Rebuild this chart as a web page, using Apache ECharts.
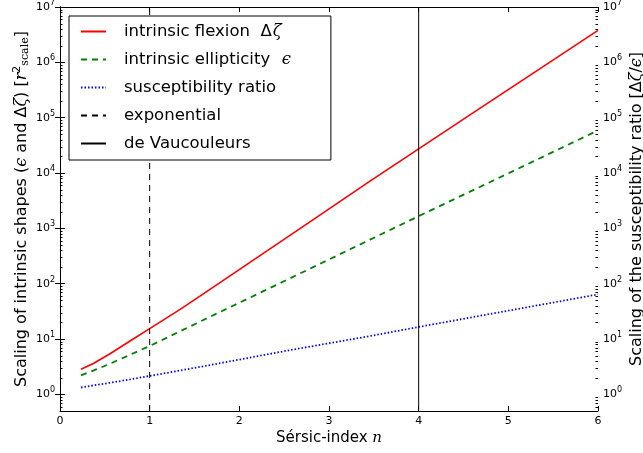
<!DOCTYPE html>
<html>
<head>
<meta charset="utf-8">
<script src="https://cdn.jsdelivr.net/npm/echarts@6/dist/echarts.min.js"></script>
<style>
  html, body { margin: 0; padding: 0; background: #fff; overflow: hidden; }
  #chart { width: 643px; height: 453px; }
</style>
</head>
<body>
<div id="chart"></div>
<script>
// Sérsic index values at which the scalings are sampled
const sersicN = [0.234, 0.372, 0.558, 0.781, 1.0, 1.34, 1.561, 2.453, 2.565, 3.457, 4.0, 4.572, 5.464, 6.0];
// intrinsic flexion Δζ  [r_scale^2]
const flexion = [2.84, 3.61, 5.42, 9.20, 15.4, 34.4, 59.7, 564, 746, 7110, 27350, 112000, 1010000, 3780000];
// intrinsic ellipticity ε
const ellipticity = [2.21, 2.68, 3.58, 5.19, 7.48, 13.8, 20.6, 102, 125, 624, 1660, 4600, 22600, 58900];
// susceptibility ratio Δζ/ε
const ratio = [1.33, 1.45, 1.62, 1.86, 2.15, 2.70, 3.13, 5.82, 6.30, 11.3, 16.5, 24.3, 44.6, 64.1];

// reference profiles
const exponentialN = 1;
const deVaucouleursN = 4;

// axis ranges
const xRange = [0, 6];
const yRange = [0.5, 1e7];

const FONT = 'DejaVu Sans';
const MATH = 'DejaVu Serif';

function pairs(xs, ys) { return xs.map((x, i) => [x, ys[i]]); }

// minor log ticks at 2..9 × 10^k inside the y range
const minorTicks = [];
for (let k = -1; k <= 6; k++) {
  for (let m = 2; m <= 9; m++) {
    const v = m * Math.pow(10, k);
    if (v >= yRange[0] && v <= yRange[1]) minorTicks.push([xRange[0], v]);
  }
}

function powLabel(v) {
  const k = Math.log10(v);
  if (Math.abs(k - Math.round(k)) > 1e-6) return '';
  return '10{sup|' + Math.round(k) + '}';
}

const tickLabelRich = {
  sup: { fontSize: 8, fontFamily: FONT, color: '#000', padding: [0, 0, 8, 0] }
};

const chart = echarts.init(document.getElementById('chart'), null, { renderer: 'canvas' });

const yAxisCommon = {
  type: 'log',
  logBase: 10,
  min: yRange[0],
  max: yRange[1],
  axisLine: { show: true, lineStyle: { color: '#000', width: 1 } },
  axisTick: { show: true, inside: true, length: 5, lineStyle: { color: '#000' } },
  splitLine: { show: false },
  axisLabel: {
    showMinLabel: false,
    formatter: powLabel,
    fontFamily: FONT,
    fontSize: 11,
    color: '#000',
    margin: 5,
    rich: tickLabelRich
  },
  nameLocation: 'middle',
  nameRotate: 90,
  nameMoveOverlap: false,
  nameTextStyle: { fontFamily: FONT, fontSize: 16, color: '#000' }
};

const mathRich = { fontFamily: MATH, fontStyle: 'italic', fontSize: 16.5, color: '#000', padding: [0, 0, 0, 1] };

const option = {
  animation: false,
  backgroundColor: '#fff',
  grid: { left: 60, right: 45, top: 7, bottom: 42, containLabel: false, outerBoundsMode: 'none' },
  legend: {
    orient: 'vertical',
    left: 69,
    top: 16,
    padding: [7, 40, 8, 11],
    itemWidth: 25,
    itemHeight: 14,
    itemGap: 11,
    borderColor: '#000',
    borderWidth: 1,
    backgroundColor: '#fff',
    itemStyle: { opacity: 0 },
    data: ['flexion', 'ellipticity', 'ratio', 'exponential', 'deVaucouleurs'],
    formatter: function (name) {
      return {
        flexion: 'intrinsic flexion  Δ{i|ζ}',
        ellipticity: 'intrinsic ellipticity  {i|ϵ}',
        ratio: 'susceptibility ratio',
        exponential: 'exponential',
        deVaucouleurs: 'de Vaucouleurs'
      }[name];
    },
    textStyle: {
      fontFamily: FONT,
      fontSize: 16.5,
      color: '#000',
      padding: [0, 0, 0, 13],
      rich: { i: mathRich }
    }
  },
  xAxis: [
    {
      type: 'value',
      min: xRange[0],
      max: xRange[1],
      interval: 1,
      position: 'bottom',
      axisLine: { show: true, onZero: false, lineStyle: { color: '#000', width: 1 } },
      axisTick: { show: true, inside: true, length: 5, lineStyle: { color: '#000' } },
      splitLine: { show: false },
      axisLabel: { fontFamily: FONT, fontSize: 11, color: '#000', margin: 5 },
      name: 'Sérsic-index {i|n}',
      nameLocation: 'middle',
      nameGap: 20,
      nameMoveOverlap: false,
      nameTextStyle: {
        fontFamily: FONT, fontSize: 15, color: '#000',
        rich: { i: { fontFamily: MATH, fontStyle: 'italic', fontSize: 15, color: '#000' } }
      }
    },
    {
      type: 'value',
      min: xRange[0],
      max: xRange[1],
      interval: 1,
      position: 'top',
      axisLine: { show: true, onZero: false, lineStyle: { color: '#000', width: 1 } },
      axisTick: { show: true, inside: true, length: 5, lineStyle: { color: '#000' } },
      splitLine: { show: false },
      axisLabel: { show: false }
    }
  ],
  yAxis: [
    Object.assign({}, yAxisCommon, {
      position: 'left',
      name: 'Scaling of intrinsic shapes ({i|ϵ} and Δ{i|ζ}) [{i|r}{sup|2}{sub|scale}]',
      nameGap: 28,
      nameTextStyle: Object.assign({}, yAxisCommon.nameTextStyle, {
        rich: {
          i: { fontFamily: MATH, fontStyle: 'italic', fontSize: 16, color: '#000' },
          sup: { fontFamily: FONT, fontSize: 11, color: '#000', padding: [0, 0, 9, 0] },
          sub: { fontFamily: MATH, fontSize: 11, color: '#000', padding: [6, 0, 0, 0] }
        }
      })
    }),
    Object.assign({}, yAxisCommon, {
      position: 'right',
      name: 'Scaling of the susceptibility ratio [Δ{i|ζ}/{i|ϵ}]',
      nameGap: 31,
      nameTextStyle: Object.assign({}, yAxisCommon.nameTextStyle, {
        rich: { i: { fontFamily: MATH, fontStyle: 'italic', fontSize: 16, color: '#000' } }
      })
    })
  ],
  series: [
    {
      name: 'flexion', type: 'line', data: pairs(sersicN, flexion),
      symbol: 'none', lineStyle: { color: '#ff0000', width: 1.6, type: 'solid' },
      itemStyle: { color: '#ff0000' }
    },
    {
      name: 'ellipticity', type: 'line', data: pairs(sersicN, ellipticity),
      symbol: 'none', lineStyle: { color: '#008000', width: 1.8, type: [6, 5] },
      itemStyle: { color: '#008000' }
    },
    {
      name: 'ratio', type: 'line', data: pairs(sersicN, ratio),
      symbol: 'none', lineStyle: { color: '#0000ff', width: 1.8, type: [1.5, 2] },
      itemStyle: { color: '#0000ff' }
    },
    {
      name: 'exponential', type: 'line',
      data: [[exponentialN, yRange[0]], [exponentialN, yRange[1]]],
      symbol: 'none', lineStyle: { color: '#000', width: 1, type: [6, 5] },
      itemStyle: { color: '#000' }
    },
    {
      name: 'deVaucouleurs', type: 'line',
      data: [[deVaucouleursN, yRange[0]], [deVaucouleursN, yRange[1]]],
      symbol: 'none', lineStyle: { color: '#000', width: 1, type: 'solid' },
      itemStyle: { color: '#000' }
    },
    {
      // minor log ticks on both vertical spines
      name: 'minorTicks', type: 'custom', silent: true, clip: false,
      data: minorTicks,
      renderItem: function (params, api) {
        const v = api.value(1);
        const pl = api.coord([xRange[0], v]);
        const pr = api.coord([xRange[1], v]);
        const y = Math.round(pl[1]) + 0.5;
        return {
          type: 'group',
          children: [
            { type: 'line', shape: { x1: pl[0], y1: y, x2: pl[0] + 2.5, y2: y }, style: { stroke: '#000', lineWidth: 1 } },
            { type: 'line', shape: { x1: pr[0], y1: y, x2: pr[0] - 2.5, y2: y }, style: { stroke: '#000', lineWidth: 1 } }
          ]
        };
      }
    }
  ]
};

chart.setOption(option);
</script>
</body>
</html>
